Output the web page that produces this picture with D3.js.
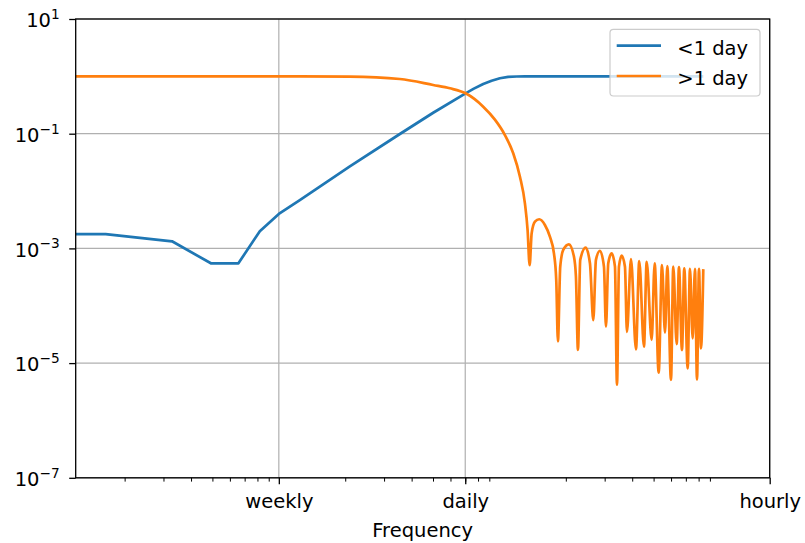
<!DOCTYPE html>
<html>
<head>
<meta charset="utf-8">
<script src="https://cdn.jsdelivr.net/npm/d3@7"></script>
<style>
  body { margin: 0; background: #fff; }
  svg { display: block; }
  text { font-family: "DejaVu Sans", sans-serif; fill: #000; }
</style>
</head>
<body>
<svg id="svg" width="805" height="543"></svg>
<script>
// frequency in cycles per week
var freqBlue = [0.12, 0.164, 0.328, 0.492, 0.656, 0.82, 1.0, 1.245, 2.099, 3.538, 5.01, 7.025, 7.66, 8.445, 9.218, 10.05,
  10.96, 11.97, 13.05, 84];
var ampBlue  = [1.78e-3, 1.78e-3, 1.33e-3, 5.5e-4, 5.5e-4, 2.0e-3, 3.98e-3, 6.98e-3, 0.0268, 0.0988, 0.232, 0.506, 0.611,
  0.736, 0.837, 0.925, 0.978, 0.993, 1.0, 1.0];

var freqOrange = [0.12, 1.245, 2.099, 3.538, 5.01, 5.965, 7.025, 8.445, 9.541, 10.59, 11.55, 12.39, 13.05, 13.42, 13.71,
  14.0, 14.49, 15.15, 16.08, 16.94, 17.67, 18.1, 18.42, 18.87, 19.47, 20.66, 21.77, 22.23, 22.7, 23.25, 24.6, 25.73, 26.64,
  27.39, 28.56, 29.78, 30.41, 31.15, 32.27, 33.41, 34.12, 34.83, 35.83, 37.08, 37.86, 39.48, 41.6, 43.05, 45.22, 46.52,
  48.99, 50.56, 52.72, 54.58, 56.32, 57.68, 59.95, 61.4, 63.62, 65.17, 67.24, 68.87, 71.36, 73.09, 75.19, 77.01, 78.65,
  80.31, 81.99, 84];
var ampOrange = [1.0, 1.0, 0.99, 0.899, 0.707, 0.619, 0.506, 0.296, 0.176, 0.0949, 0.0455, 0.0178, 6.1e-3, 2.09e-3, 5.1e-4,
  1.83e-3, 2.92e-3, 3.22e-3, 2.56e-3, 1.6e-3, 8.2e-4, 2.8e-4, 2.4e-5, 4.8e-4, 9.4e-4, 1.18e-3, 7.2e-4, 3.2e-4, 1.7e-5,
  6.3e-4, 1.03e-3, 5.5e-4, 5.6e-5, 6.3e-4, 9.1e-4, 4.8e-4, 4.3e-5, 5.5e-4, 8.2e-4, 4.8e-4, 4.2e-6, 4.8e-4, 7.5e-4,
  4.8e-4, 3.5e-5, 6.5e-4, 1.74e-5, 6.0e-4, 1.93e-5, 5.8e-4, 2.53e-5, 5.5e-4, 6.8e-6, 5.1e-4, 3.4e-5, 4.9e-4, 5.1e-6,
  4.8e-4, 2.15e-5, 4.7e-4, 1.69e-5, 4.5e-4, 8.1e-6, 4.4e-4, 2.7e-5, 4.4e-4, 5.2e-6, 4.4e-4, 1.81e-5, 4.35e-4];

var xTickValues = [1, 7, 168];
var xTickLabels = ["weekly", "daily", "hourly"];
var xMinorTicks = [0.2, 0.3, 0.4, 0.5, 0.6, 0.7, 0.8, 0.9, 2, 3, 4, 5, 6, 7, 8, 9, 20, 30, 40, 50, 60, 70, 80, 90];
var yTickValues = [1e1, 1e-1, 1e-3, 1e-5, 1e-7];
var seriesNames = ["<1 day", ">1 day"];
var colors = ["#1f77b4", "#ff7f0e"];

var plotLeft = 75.7, plotRight = 769.7, plotTop = 19, plotBottom = 477.8;
var fontSize = 19.5;

const svg = d3.select('#svg');

var x = d3.scaleLog().domain([0.12, 168]).range([plotLeft, plotRight]);
var y = d3.scaleLog().domain([1e-7, 10]).range([plotBottom, plotTop]);

// grid
var grid = svg.append("g").attr("stroke", "#b0b0b0").attr("stroke-width", 1.2);
grid.selectAll("line.gx").data(xTickValues).enter().append("line")
  .attr("x1", d => x(d)).attr("x2", d => x(d)).attr("y1", plotTop).attr("y2", plotBottom);
grid.selectAll("line.gy").data(yTickValues).enter().append("line")
  .attr("x1", plotLeft).attr("x2", plotRight).attr("y1", d => y(d)).attr("y2", d => y(d));

// data lines
svg.append("clipPath").attr("id", "clip").append("rect")
  .attr("x", plotLeft).attr("y", plotTop).attr("width", plotRight - plotLeft).attr("height", plotBottom - plotTop);

var blueData = freqBlue.map((f, i) => [f, ampBlue[i]]);
var orangeData = freqOrange.map((f, i) => [f, ampOrange[i]]);
var curves = [d3.curveLinear, d3.curveMonotoneX];

var plot = svg.append("g").attr("clip-path", "url(#clip)");
[blueData, orangeData].forEach(function(d, i) {
  var line = d3.line().x(p => x(p[0])).y(p => y(p[1])).curve(curves[i]);
  plot.append("path").datum(d)
    .attr("d", line)
    .attr("fill", "none")
    .attr("stroke", colors[i])
    .attr("stroke-width", 2.7)
    .attr("stroke-linejoin", "round");
});

// spines
svg.append("rect").attr("x", plotLeft).attr("y", plotTop).attr("width", plotRight - plotLeft).attr("height", plotBottom - plotTop)
  .attr("fill", "none").attr("stroke", "#000").attr("stroke-width", 1.3);

// x axis
var xAxis = svg.append("g").attr("transform", "translate(0," + plotBottom + ")")
  .call(d3.axisBottom(x).tickValues(xTickValues).tickFormat((d, i) => xTickLabels[i]).tickSize(6.5).tickSizeOuter(0));
xAxis.select(".domain").remove();
xAxis.selectAll(".tick line").attr("stroke-width", 1.3);
xAxis.selectAll(".tick text").attr("y", 30.2).attr("dy", null)
  .style("font-size", fontSize + "px").style("font-family", "DejaVu Sans");

var xMinor = svg.append("g").attr("transform", "translate(0," + plotBottom + ")")
  .call(d3.axisBottom(x).tickValues(xMinorTicks).tickFormat("").tickSize(3.8).tickSizeOuter(0));
xMinor.select(".domain").remove();
xMinor.selectAll(".tick line").attr("stroke-width", 1.0);

// y axis
var yAxis = svg.append("g").attr("transform", "translate(" + plotLeft + ",0)")
  .call(d3.axisLeft(y).tickValues(yTickValues).tickFormat("").tickSize(6.5).tickSizeOuter(0));
yAxis.select(".domain").remove();
yAxis.selectAll(".tick line").attr("stroke-width", 1.3);
yAxis.selectAll(".tick").each(function(d) {
  var e = Math.round(Math.log10(d));
  var t = d3.select(this).append("text")
    .attr("x", -16).attr("y", 7.8)
    .attr("text-anchor", "end")
    .style("font-size", fontSize + "px");
  t.append("tspan").text("10");
  t.append("tspan").attr("dy", -8.3).style("font-size", "13.7px")
    .text(e < 0 ? "\u2212" + (-e) : String(e));
});

// axis title
svg.append("text").attr("x", (plotLeft + plotRight) / 2).attr("y", 536.5)
  .attr("text-anchor", "middle").style("font-size", fontSize + "px").text("Frequency");

// legend
var legend = svg.append("g");
legend.append("rect").attr("x", 610).attr("y", 29.3).attr("width", 150).attr("height", 66.7)
  .attr("rx", 3.5).attr("fill", "#fff").attr("fill-opacity", 0.8)
  .attr("stroke", "#cccccc").attr("stroke-width", 1.2);
seriesNames.forEach(function(name, i) {
  var ly = 45.7 + i * 30.3;
  legend.append("line").attr("x1", 616.7).attr("x2", 661).attr("y1", ly).attr("y2", ly)
    .attr("stroke", colors[i]).attr("stroke-width", 2.7);
  legend.append("text").attr("x", 677.3).attr("y", ly + 9.2)
    .style("font-size", fontSize + "px").text(name);
});
</script>
</body>
</html>
